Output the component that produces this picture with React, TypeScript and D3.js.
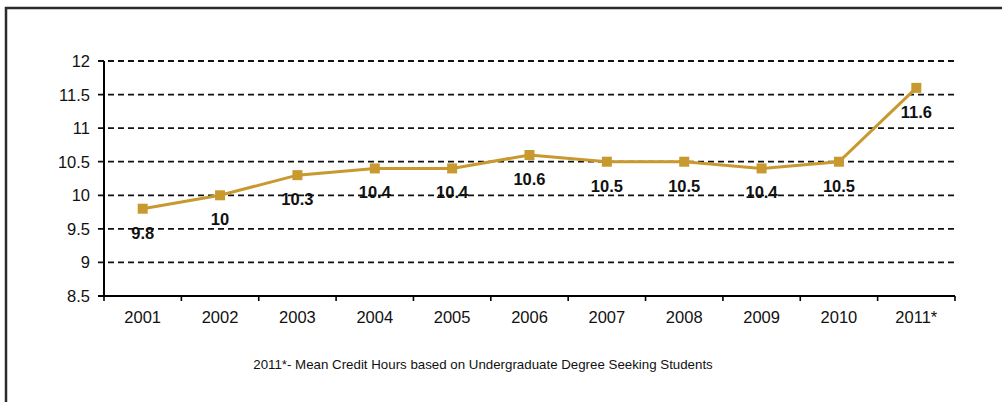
import { useEffect, useRef } from 'react';
import * as d3 from 'd3';

const years = ['2001', '2002', '2003', '2004', '2005', '2006', '2007', '2008', '2009', '2010', '2011*'];
const meanHours = [9.8, 10, 10.3, 10.4, 10.4, 10.6, 10.5, 10.5, 10.4, 10.5, 11.6];
const yTicks = [8.5, 9, 9.5, 10, 10.5, 11, 11.5, 12];
const footnote = '2011*- Mean Credit Hours based on Undergraduate Degree Seeking Students';

const W = 1002;
const H = 402;
const gold = '#C8992F';
const font = 'Arial, "Liberation Sans", sans-serif';

export default function App() {
  const svgRef = useRef<SVGSVGElement>(null);

  useEffect(() => {
    if (!svgRef.current) return;
    const svg = d3.select(svgRef.current);
    svg.selectAll('*').remove();

    const left = 104;
    const right = 955;
    const top = 61;
    const bottom = 296;

    const x = d3.scaleBand<string>().domain(years).range([left, right]);
    const y = d3.scaleLinear().domain([8.5, 12]).range([bottom, top]);
    const cx = (d: string) => (x(d) ?? 0) + x.bandwidth() / 2;

    // outer frame, only top and left edges fall inside the view
    svg
      .append('rect')
      .attr('x', 6)
      .attr('y', 8)
      .attr('width', 1200)
      .attr('height', 600)
      .attr('fill', 'none')
      .attr('stroke', '#2b2b2b')
      .attr('stroke-width', 2.5);

    // dashed grid
    svg
      .append('g')
      .selectAll('line')
      .data(yTicks.filter((t) => t > 8.5))
      .enter()
      .append('line')
      .attr('x1', left - 6)
      .attr('x2', right)
      .attr('y1', (d) => y(d))
      .attr('y2', (d) => y(d))
      .attr('stroke', '#111')
      .attr('stroke-width', 1.8)
      .attr('stroke-dasharray', '6,4');

    // y tick labels
    svg
      .append('g')
      .selectAll('text')
      .data(yTicks)
      .enter()
      .append('text')
      .attr('x', 90)
      .attr('y', (d) => y(d))
      .attr('dy', '0.36em')
      .attr('text-anchor', 'end')
      .attr('font-family', font)
      .attr('font-size', 16.5)
      .attr('fill', '#111')
      .text((d) => String(d));

    // axes
    svg
      .append('line')
      .attr('x1', left)
      .attr('x2', left)
      .attr('y1', top)
      .attr('y2', bottom)
      .attr('stroke', '#000')
      .attr('stroke-width', 2);
    svg
      .append('line')
      .attr('x1', left - 6)
      .attr('x2', right)
      .attr('y1', bottom)
      .attr('y2', bottom)
      .attr('stroke', '#000')
      .attr('stroke-width', 2);

    const bounds = years.map((d) => x(d) ?? 0).concat([right]);
    svg
      .append('g')
      .selectAll('line')
      .data(bounds)
      .enter()
      .append('line')
      .attr('x1', (d) => d)
      .attr('x2', (d) => d)
      .attr('y1', bottom)
      .attr('y2', bottom + 5)
      .attr('stroke', '#000')
      .attr('stroke-width', 1.6);

    // x labels
    svg
      .append('g')
      .selectAll('text')
      .data(years)
      .enter()
      .append('text')
      .attr('x', (d) => cx(d))
      .attr('y', 323)
      .attr('text-anchor', 'middle')
      .attr('font-family', font)
      .attr('font-size', 16.5)
      .attr('fill', '#111')
      .text((d) => d);

    // line
    const line = d3
      .line<number>()
      .x((_, i) => cx(years[i]))
      .y((d) => y(d));
    svg
      .append('path')
      .datum(meanHours)
      .attr('d', line)
      .attr('fill', 'none')
      .attr('stroke', gold)
      .attr('stroke-width', 3);

    // markers
    svg
      .append('g')
      .selectAll('rect')
      .data(meanHours)
      .enter()
      .append('rect')
      .attr('x', (_, i) => cx(years[i]) - 5)
      .attr('y', (d) => y(d) - 5)
      .attr('width', 10)
      .attr('height', 10)
      .attr('fill', gold);

    // value labels
    svg
      .append('g')
      .selectAll('text')
      .data(meanHours)
      .enter()
      .append('text')
      .attr('x', (_, i) => cx(years[i]))
      .attr('y', (d) => y(d) + 30)
      .attr('text-anchor', 'middle')
      .attr('font-family', font)
      .attr('font-weight', 'bold')
      .attr('font-size', 16.5)
      .attr('fill', '#111')
      .text((d) => String(d));

    // footnote
    svg
      .append('text')
      .attr('x', 483)
      .attr('y', 369)
      .attr('text-anchor', 'middle')
      .attr('font-family', font)
      .attr('font-size', 13.3)
      .attr('fill', '#111')
      .text(footnote);
  }, []);

  return (
    <svg
      ref={svgRef}
      width={W}
      height={H}
      style={{ position: 'absolute', left: 0, top: 0, background: '#fff' }}
    />
  );
}
